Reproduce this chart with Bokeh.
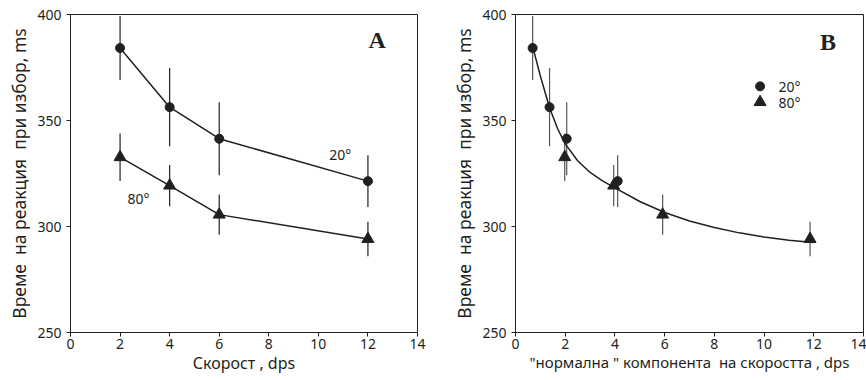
from bokeh.plotting import figure
from bokeh.models import FixedTicker, Range1d, Title
from bokeh.layouts import row
from bokeh.embed import file_html
from bokeh.resources import INLINE
from bokeh.core.properties import value

# Choice reaction time vs. stimulus speed, two motion directions (20° and 80°)
speed = [2, 4, 6, 12]                       # dps
normal_20 = [0.69, 1.37, 2.06, 4.11]        # "normal" speed component, 20°
normal_80 = [1.98, 3.95, 5.92, 11.85]       # "normal" speed component, 80°

rt_20 = [384.2, 356.3, 341.4, 321.4]        # ms
err_20 = [15.1, 18.5, 17.2, 12.2]
rt_80 = [332.7, 319.3, 305.6, 294.1]        # ms
err_80 = [11.2, 9.7, 9.5, 8.1]

# fitted curve through all points, sampled along the normal component
fit_x = [0.70, 1.0, 1.37, 1.7, 2.0, 2.5, 3.0, 3.5, 4.0, 5.0, 6.0, 7.0, 8.0, 9.0, 10.0, 11.0, 12.0]
fit_y = [384.5, 371.0, 356.0, 346.0, 339.0, 331.0, 325.5, 321.5, 318.2, 311.8, 306.6, 302.6,
         299.5, 297.0, 295.0, 293.5, 292.4]

x_ticks = [0, 2, 4, 6, 8, 10, 12, 14]
y_ticks = [250, 300, 350, 400]

# non-breaking spaces keep the wide word gaps in the SVG text
y_title = "Време\u00a0 на реакция\u00a0 при избор, ms"
x_title_a = "Скорост , dps"
x_title_b = "\"нормална \" компонента\u00a0 на скоростта , dps"

INK = "#231f20"
FONT = "Noto Sans"


def make_panel(x_title, x_title_size, left, right):
    p = figure(width=433, height=380,
               x_range=Range1d(0, 14), y_range=Range1d(250, 400),
               output_backend="svg", toolbar_location=None,
               min_border_left=left, min_border_right=right,
               min_border_top=14, min_border_bottom=48)
    p.grid.visible = False
    p.background_fill_color = "white"
    p.border_fill_color = "white"
    p.outline_line_color = INK
    p.outline_line_width = 1
    p.outline_line_alpha = 1

    p.xaxis.ticker = FixedTicker(ticks=x_ticks)
    p.yaxis.ticker = FixedTicker(ticks=y_ticks)
    p.xaxis.axis_label = x_title
    for ax in (p.xaxis, p.yaxis):
        ax.axis_line_color = INK
        ax.axis_line_width = 1
        ax.major_tick_line_color = INK
        ax.major_tick_out = 4
        ax.major_tick_in = 0
        ax.minor_tick_out = 0
        ax.minor_tick_in = 0
        ax.major_label_text_font = FONT
        ax.major_label_text_font_size = "14px"
        ax.major_label_text_color = INK
    p.xaxis.axis_label_text_font = FONT
    p.xaxis.axis_label_text_font_style = "normal"
    p.xaxis.axis_label_text_color = INK
    p.xaxis.axis_label_text_font_size = x_title_size
    p.xaxis.major_label_standoff = 2
    p.xaxis.axis_label_standoff = 0
    p.yaxis.major_label_standoff = 5

    # vertical y title in the left margin, nudged a little above the frame centre
    p.add_layout(Title(text=y_title, align="center", offset=-21, standoff=8,
                       text_font=FONT, text_font_size="17.5px", text_font_style="normal",
                       text_color=INK), "left")
    return p


def error_bars(p, xs, ys, errs, color):
    p.segment(x0=xs, y0=[y - e for y, e in zip(ys, errs)],
              x1=xs, y1=[y + e for y, e in zip(ys, errs)],
              line_color=color, line_width=1.2)


def label(p, x, y, txt, size="14px", align="center", font=FONT, style="normal"):
    p.text(x=[x], y=[y], text=[txt], text_font=value(font), text_font_size=size,
           text_font_style=style, text_color=INK, text_align=align, text_baseline="middle")


# Panel A: reaction time vs. speed
pa = make_panel(x_title_a, "16px", 68, 16)
error_bars(pa, speed, rt_20, err_20, INK)
error_bars(pa, speed, rt_80, err_80, INK)
pa.line(speed, rt_20, line_color=INK, line_width=1.5)
pa.line(speed, rt_80, line_color=INK, line_width=1.5)
pa.scatter(speed, rt_20, marker="circle", size=9, fill_color=INK, line_color=INK)
pa.scatter(speed, rt_80, marker="triangle", size=12, fill_color=INK, line_color=INK)
label(pa, 10.88, 334.0, "20°")
label(pa, 2.74, 313.0, "80°")
label(pa, 12.37, 387.9, "A", size="24px", font="Liberation Serif", style="bold")

# Panel B: reaction time vs. normal speed component
pb = make_panel(x_title_b, "15px", 82, 3)
error_bars(pb, normal_20, rt_20, err_20, "#555555")
error_bars(pb, normal_80, rt_80, err_80, "#555555")
pb.line(fit_x, fit_y, line_color=INK, line_width=1.5, line_join="round")
pb.scatter(normal_20, rt_20, marker="circle", size=9, fill_color=INK, line_color=INK)
pb.scatter(normal_80, rt_80, marker="triangle", size=12, fill_color=INK, line_color=INK)
pb.scatter([9.84], [366.1], marker="circle", size=9, fill_color=INK, line_color=INK)
pb.scatter([9.84], [358.7], marker="triangle", size=12, fill_color=INK, line_color=INK)
label(pb, 10.58, 366.1, "20°", align="left")
label(pb, 10.58, 358.7, "80°", align="left")
label(pb, 12.57, 387.1, "B", size="24px", font="Liberation Serif", style="bold")

layout = row(pa, pb)
open("out.html", "w").write(file_html(layout, INLINE))
